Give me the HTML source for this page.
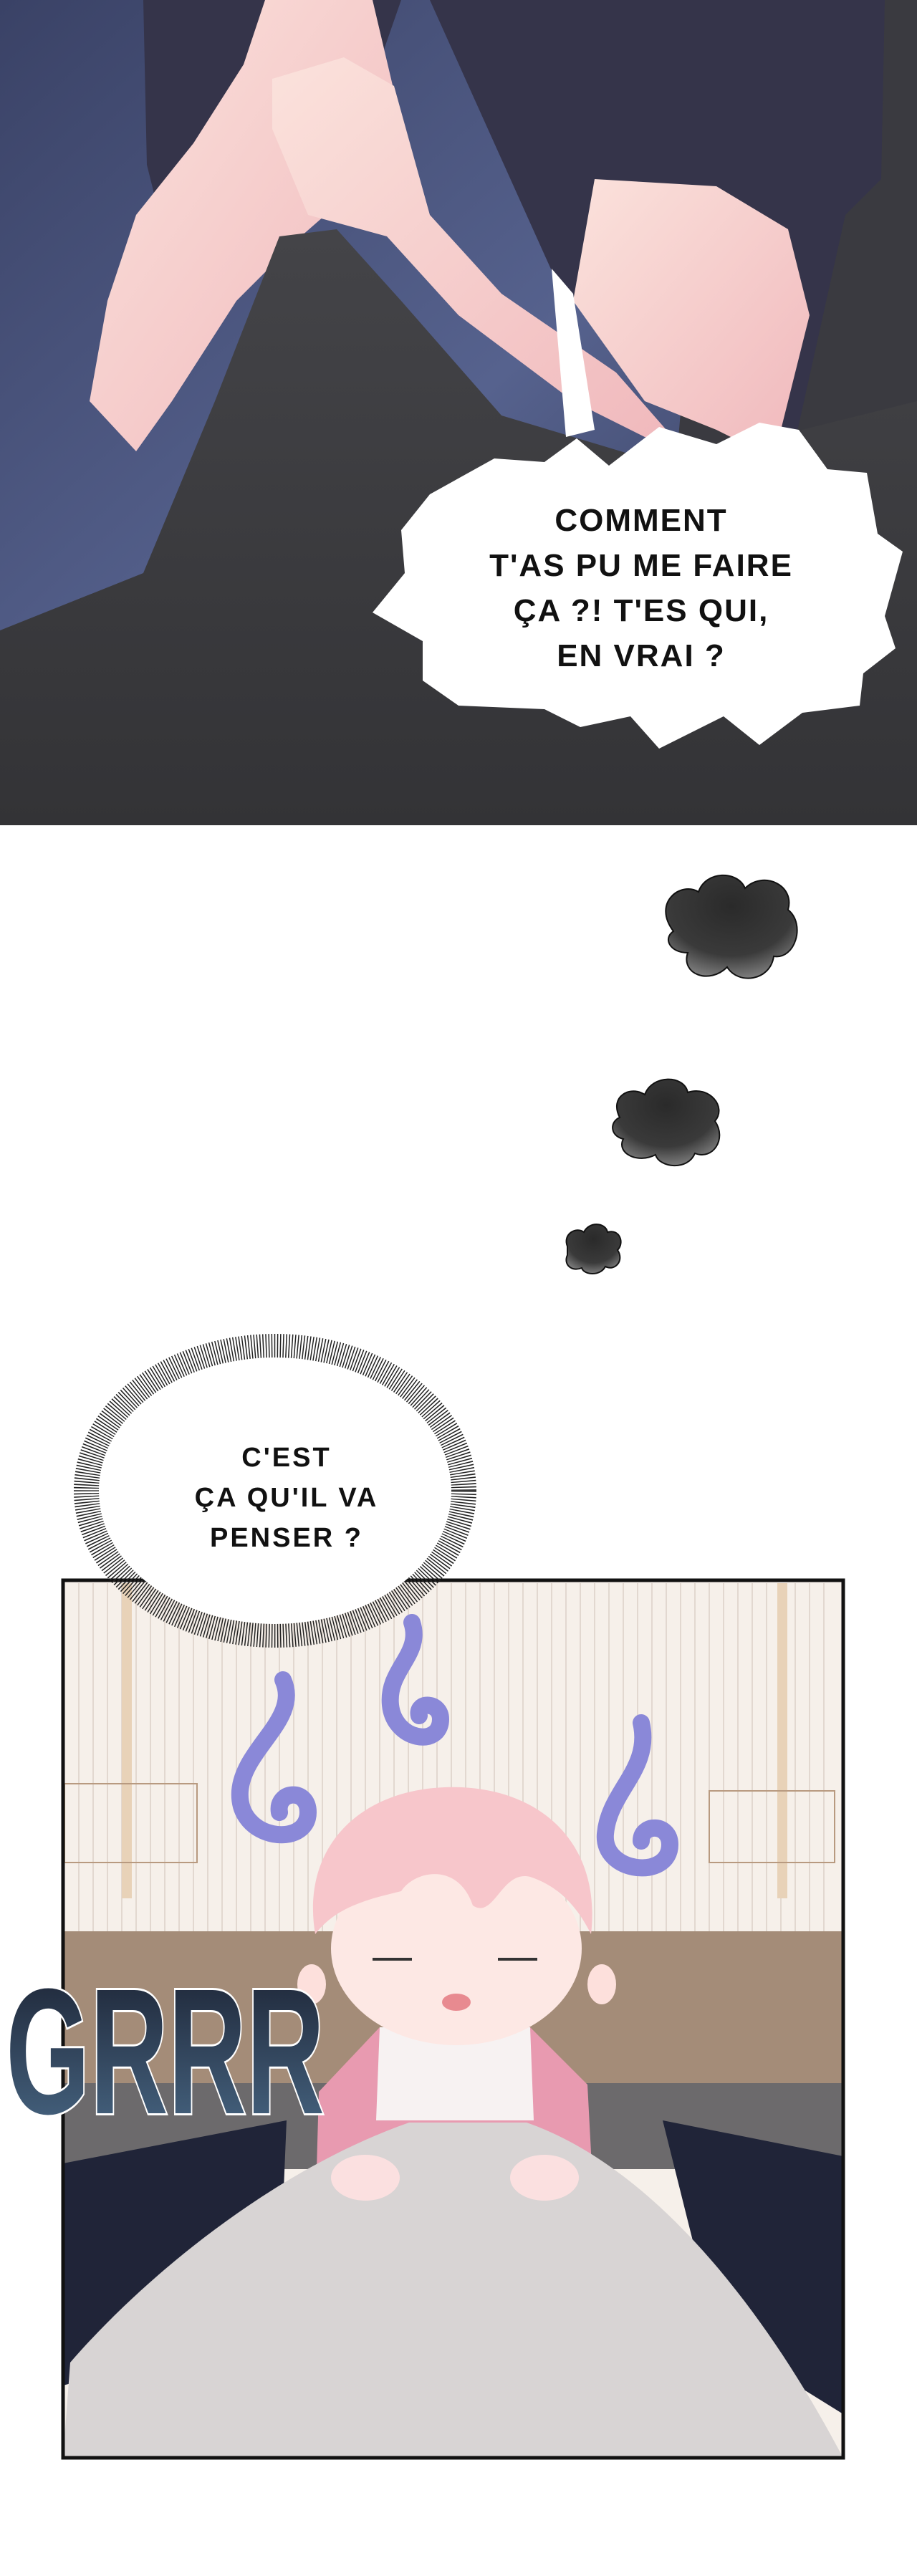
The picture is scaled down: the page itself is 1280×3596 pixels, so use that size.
<!DOCTYPE html>
<html><head><meta charset="utf-8"><style>
html,body{margin:0;padding:0;background:#fff}
body{width:1280px;height:3596px;position:relative;overflow:hidden;font-family:"Liberation Sans",sans-serif}
.abs{position:absolute}
</style></head><body>
<svg class="abs" style="left:0;top:0" width="1280" height="3596" viewBox="0 0 1280 3596">
<defs>
<linearGradient id="bg1" x1="0" y1="0" x2="1" y2="1"><stop offset="0" stop-color="#3a4266"/><stop offset="0.5" stop-color="#56628e"/><stop offset="1" stop-color="#2a2f48"/></linearGradient>
<linearGradient id="blk" x1="0" y1="0" x2="0" y2="1"><stop offset="0" stop-color="#444448"/><stop offset="1" stop-color="#333336"/></linearGradient>
<linearGradient id="skin" x1="0" y1="0" x2="1" y2="1"><stop offset="0" stop-color="#fbe2dc"/><stop offset="1" stop-color="#f0b8bc"/></linearGradient>
<linearGradient id="grr" x1="0" y1="0" x2="0" y2="1"><stop offset="0" stop-color="#1a2030"/><stop offset="1" stop-color="#4a6a88"/></linearGradient>
<radialGradient id="cl" cx="0.5" cy="0.3" r="0.8"><stop offset="0" stop-color="#2a2a2a"/><stop offset="0.6" stop-color="#3a3a3a"/><stop offset="1" stop-color="#999"/></radialGradient>
</defs>
<!-- top panel -->
<rect x="0" y="0" width="1280" height="1152" fill="url(#bg1)"/>
<polygon points="1000,0 1280,0 1280,1152 900,1152" fill="#3a3a40"/>
<!-- shirt -->
<polygon points="215,0 1235,0 1230,250 1180,300 1100,660 1060,640 1000,560 780,400 600,0" fill="#35344a"/>
<polygon points="200,0 560,0 480,230 330,330 230,330 205,230" fill="#35344a"/>
<!-- arms -->
<polygon points="125,560 150,420 190,300 270,200 340,90 370,0 520,0 560,170 500,260 420,330 330,420 240,560 190,630" fill="url(#skin)"/>
<polygon points="380,110 480,80 550,120 600,300 700,410 860,520 930,600 950,620 900,610 800,560 640,440 540,330 430,300 380,180" fill="url(#skin)"/>
<polygon points="830,250 1000,260 1100,320 1130,440 1080,640 1000,600 900,560 800,420" fill="url(#skin)"/>
<!-- blanket -->
<polygon points="0,880 200,800 300,560 390,330 470,320 560,420 700,580 900,640 1080,650 1120,600 1280,560 1280,1152 0,1152" fill="url(#blk)"/>
<rect x="0" y="1152" width="1280" height="8" fill="#fff"/>
<!-- speech bubble -->
<path d="M560,740 L600,690 L690,640 L760,645 L805,612 L850,650 L920,596 L1000,620 L1060,590 L1115,600 L1155,655 L1210,660 L1225,745 L1260,770 L1235,860 L1250,905 L1205,940 L1200,985 L1120,995 L1060,1040 L1010,1000 L920,1045 L880,1000 L810,1015 L760,990 L640,985 L590,950 L590,895 L520,855 L565,800 Z" fill="#fff"/>
<polygon points="770,375 800,410 830,600 790,610" fill="#fff"/>
<!-- clouds -->
<g fill="url(#cl)" stroke="#111" stroke-width="2">
<path d="M940,1300 C910,1260 950,1230 975,1245 C985,1215 1030,1215 1040,1240 C1065,1215 1110,1235 1100,1270 C1125,1290 1110,1340 1080,1335 C1075,1370 1030,1375 1015,1350 C990,1375 950,1360 960,1330 C935,1330 925,1310 940,1300 Z"/>
<path d="M865,1560 C850,1530 880,1515 900,1528 C910,1500 955,1500 960,1525 C990,1515 1015,1545 998,1565 C1015,1590 995,1620 970,1610 C960,1635 920,1630 915,1612 C890,1625 860,1610 870,1590 C850,1585 852,1565 865,1560 Z"/>
<path d="M792,1740 C785,1722 805,1712 815,1720 C822,1705 845,1706 848,1720 C865,1715 872,1735 862,1745 C872,1760 858,1775 845,1768 C838,1782 815,1780 812,1770 C798,1776 786,1765 792,1752 Z"/>
</g>
<!-- bottom panel -->
<rect x="88" y="2206" width="1089" height="1225" fill="#f6f0ea"/>
<g stroke="#e2d8d0" stroke-width="2">
<line x1="110" y1="2210" x2="110" y2="2696"/><line x1="130" y1="2210" x2="130" y2="2696"/><line x1="150" y1="2210" x2="150" y2="2696"/><line x1="170" y1="2210" x2="170" y2="2696"/><line x1="190" y1="2210" x2="190" y2="2696"/><line x1="210" y1="2210" x2="210" y2="2696"/><line x1="230" y1="2210" x2="230" y2="2696"/><line x1="250" y1="2210" x2="250" y2="2696"/><line x1="270" y1="2210" x2="270" y2="2696"/><line x1="290" y1="2210" x2="290" y2="2696"/><line x1="310" y1="2210" x2="310" y2="2696"/><line x1="330" y1="2210" x2="330" y2="2696"/><line x1="350" y1="2210" x2="350" y2="2696"/><line x1="370" y1="2210" x2="370" y2="2696"/><line x1="390" y1="2210" x2="390" y2="2696"/><line x1="410" y1="2210" x2="410" y2="2696"/><line x1="430" y1="2210" x2="430" y2="2696"/><line x1="450" y1="2210" x2="450" y2="2696"/><line x1="470" y1="2210" x2="470" y2="2696"/><line x1="490" y1="2210" x2="490" y2="2696"/><line x1="510" y1="2210" x2="510" y2="2696"/><line x1="530" y1="2210" x2="530" y2="2696"/><line x1="550" y1="2210" x2="550" y2="2696"/><line x1="570" y1="2210" x2="570" y2="2696"/><line x1="590" y1="2210" x2="590" y2="2696"/><line x1="610" y1="2210" x2="610" y2="2696"/><line x1="630" y1="2210" x2="630" y2="2696"/><line x1="650" y1="2210" x2="650" y2="2696"/><line x1="670" y1="2210" x2="670" y2="2696"/><line x1="690" y1="2210" x2="690" y2="2696"/><line x1="710" y1="2210" x2="710" y2="2696"/><line x1="730" y1="2210" x2="730" y2="2696"/><line x1="750" y1="2210" x2="750" y2="2696"/><line x1="770" y1="2210" x2="770" y2="2696"/><line x1="790" y1="2210" x2="790" y2="2696"/><line x1="810" y1="2210" x2="810" y2="2696"/><line x1="830" y1="2210" x2="830" y2="2696"/><line x1="850" y1="2210" x2="850" y2="2696"/><line x1="870" y1="2210" x2="870" y2="2696"/><line x1="890" y1="2210" x2="890" y2="2696"/><line x1="910" y1="2210" x2="910" y2="2696"/><line x1="930" y1="2210" x2="930" y2="2696"/><line x1="950" y1="2210" x2="950" y2="2696"/><line x1="970" y1="2210" x2="970" y2="2696"/><line x1="990" y1="2210" x2="990" y2="2696"/><line x1="1010" y1="2210" x2="1010" y2="2696"/><line x1="1030" y1="2210" x2="1030" y2="2696"/><line x1="1050" y1="2210" x2="1050" y2="2696"/><line x1="1070" y1="2210" x2="1070" y2="2696"/><line x1="1090" y1="2210" x2="1090" y2="2696"/><line x1="1110" y1="2210" x2="1110" y2="2696"/><line x1="1130" y1="2210" x2="1130" y2="2696"/><line x1="1150" y1="2210" x2="1150" y2="2696"/>
</g>
<rect x="170" y="2210" width="14" height="440" fill="#e8d2b8"/><rect x="1085" y="2210" width="14" height="440" fill="#e8d2b8"/>
<rect x="90" y="2490" width="185" height="110" fill="none" stroke="#b89a80" stroke-width="2"/>
<rect x="990" y="2500" width="175" height="100" fill="none" stroke="#b89a80" stroke-width="2"/>
<rect x="88" y="2696" width="1089" height="212" fill="#a48c78"/>
<rect x="88" y="2908" width="1089" height="120" fill="#6c6a6c"/>
<polygon points="88,3020 400,2960 390,3200 200,3300 88,3330" fill="#202438"/>
<polygon points="925,2960 1177,3010 1177,3370 1000,3260" fill="#202438"/>
<!-- character -->
<polygon points="445,2920 530,2830 740,2830 820,2910 830,3100 760,3130 530,3130 440,3100" fill="#e89ab0"/>
<polygon points="530,2830 740,2830 745,2960 525,2960" fill="#f7f2f2"/>
<ellipse cx="637" cy="2720" rx="175" ry="135" fill="#fde8e4"/>
<path d="M440,2700 C420,2580 500,2500 620,2495 C750,2490 840,2570 825,2700 C800,2650 770,2630 740,2620 C700,2610 690,2680 660,2660 C640,2600 580,2610 560,2640 C520,2650 470,2660 440,2700 Z" fill="#f7c6cb"/>
<ellipse cx="435" cy="2770" rx="20" ry="28" fill="#fde0dc"/><ellipse cx="840" cy="2770" rx="20" ry="28" fill="#fde0dc"/>
<path d="M520,2735 L575,2735 M695,2735 L750,2735" stroke="#333" stroke-width="4"/>
<ellipse cx="637" cy="2795" rx="20" ry="12" fill="#e88a90"/>
<!-- blanket -->
<path d="M98,3298 C200,3180 380,3030 571,2963 L735,2963 C900,3020 1050,3200 1159,3398 L1177,3431 L88,3431 Z" fill="#d8d4d4"/>
<ellipse cx="510" cy="3040" rx="48" ry="32" fill="#fbe0e0"/>
<ellipse cx="760" cy="3040" rx="48" ry="32" fill="#fbe0e0"/>
<!-- swirls -->
<g fill="none" stroke="#8a88d8" stroke-width="24" stroke-linecap="round">
<path d="M395,2345 C420,2400 340,2440 335,2500 C330,2570 430,2580 430,2530 C430,2495 385,2500 390,2530"/>
<path d="M575,2265 C590,2310 540,2330 545,2380 C550,2430 615,2440 615,2400 C615,2375 580,2375 585,2395"/>
<path d="M895,2405 C910,2470 850,2500 845,2560 C840,2615 935,2625 935,2575 C935,2545 895,2545 895,2570"/>
</g>
<rect x="88" y="2206" width="1089" height="1225" fill="none" stroke="#111" stroke-width="5"/>
<!-- spiky bubble -->
<ellipse cx="384" cy="2081" rx="262" ry="200" fill="none" stroke="#222" stroke-width="38" stroke-dasharray="1.5 2.5"/>
<ellipse cx="384" cy="2081" rx="246" ry="186" fill="#fff"/>
<!-- GRRR -->
<text x="8" y="2950" font-family="Liberation Sans, sans-serif" font-size="250" font-weight="bold" fill="url(#grr)" stroke="#fff" stroke-width="6" paint-order="stroke" textLength="445" lengthAdjust="spacingAndGlyphs">GRRR</text>
</svg>
<div class="abs" style="left:640px;top:695px;width:510px;text-align:center;font-size:44px;line-height:63px;font-weight:bold;color:#111;letter-spacing:2px">COMMENT<br>T'AS PU ME FAIRE<br>ÇA ?! T'ES QUI,<br>EN VRAI ?</div>
<div class="abs" style="left:200px;top:2007px;width:400px;text-align:center;font-size:38px;line-height:56px;font-weight:bold;color:#111;letter-spacing:3px">C'EST<br>ÇA QU'IL VA<br>PENSER ?</div>
</body></html>
